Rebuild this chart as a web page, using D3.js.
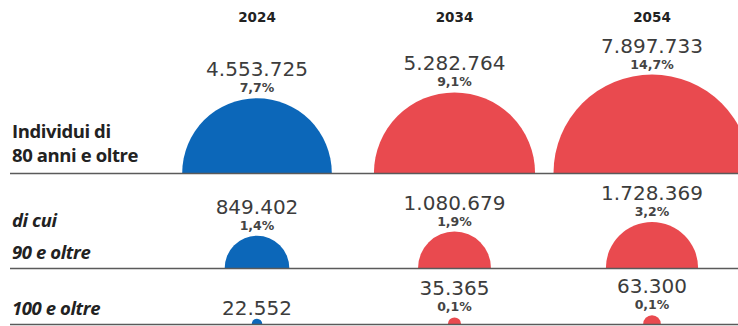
<!DOCTYPE html>
<html>
<head>
<meta charset="utf-8">
<script src="https://cdn.jsdelivr.net/npm/d3@7"></script>
<style>
  html, body { margin: 0; padding: 0; background: #fff; }
  #viz { width: 738px; height: 326px; overflow: hidden; }
</style>
</head>
<body>
<div id="viz"></div>
<script>
const years = ["2024", "2034", "2054"];
const rowKeys = ["80", "90", "100"];
const rowLabels = [["Individui di", "80 anni e oltre"], ["di cui", "90 e oltre"], ["100 e oltre"]];
const values80 = [4553725, 5282764, 7897733];
const pct80 = ["7,7%", "9,1%", "14,7%"];
const values90 = [849402, 1080679, 1728369];
const pct90 = ["1,4%", "1,9%", "3,2%"];
const values100 = [22552, 35365, 63300];
const pct100 = [null, "0,1%", "0,1%"];

function drawViz() {
  const container = document.getElementById('viz');
  container.innerHTML = '';
  const width = 738, height = 326;

  const svg = d3.select(container).append('svg')
    .attr('width', width)
    .attr('height', height);

  const rows = [
    { key: "80", label: rowLabels[0], values: values80, pct: pct80, italic: false, lineOffsets: [-35, -11] },
    { key: "90", label: rowLabels[1], values: values90, pct: pct90, italic: true, lineOffsets: [-41, -9] },
    { key: "100", label: rowLabels[2], values: values100, pct: pct100, italic: true, lineOffsets: [-9] }
  ];

  const x = d3.scalePoint().domain(years).range([257, 652]);
  const yBase = d3.scaleOrdinal().domain(rowKeys).range([173, 268, 324]);
  const r = d3.scaleSqrt().domain([0, d3.max(values80)]).range([0, 98.5]);
  const color = d3.scaleOrdinal().domain(years).range(["#0c67b9", "#e94a4f", "#e94a4f"]);
  const fmt = d3.formatLocale({ decimal: ",", thousands: ".", grouping: [3], currency: ["", "€"] }).format(",d");

  // year headers
  svg.selectAll('.year')
    .data(years)
    .enter().append('text')
    .attr('x', d => x(d))
    .attr('y', 22)
    .attr('text-anchor', 'middle')
    .attr('font-family', 'DejaVu Sans')
    .attr('font-weight', 'bold')
    .attr('font-size', 13.5)
    .attr('fill', '#222')
    .text(d => d);

  rows.forEach(row => {
    const base = yBase(row.key);
    const items = years.map((yr, i) => ({ year: yr, value: row.values[i], pct: row.pct[i] }));

    // half circles sitting on the baseline
    const arc = d3.arc()
      .innerRadius(0)
      .outerRadius(d => Math.max(r(d.value), 5))
      .startAngle(-Math.PI / 2)
      .endAngle(Math.PI / 2);

    svg.selectAll(`.semi-${row.key}`)
      .data(items)
      .enter().append('path')
      .attr('class', `semi-${row.key}`)
      .attr('transform', d => `translate(${x(d.year)},${base})`)
      .attr('d', arc)
      .attr('fill', d => color(d.year));

    // baseline rule
    svg.append('line')
      .attr('x1', 10).attr('x2', width)
      .attr('y1', base + 0.5).attr('y2', base + 0.5)
      .attr('stroke', '#5a5a5a')
      .attr('stroke-width', 1.3);

    // value labels
    svg.selectAll(`.val-${row.key}`)
      .data(items)
      .enter().append('text')
      .attr('x', d => x(d.year))
      .attr('y', d => base - r(d.value) - (d.pct ? 22 : 4))
      .attr('text-anchor', 'middle')
      .attr('font-family', 'DejaVu Sans')
      .attr('font-size', 20)
      .attr('fill', '#3c3c3c')
      .text(d => fmt(d.value));

    svg.selectAll(`.pct-${row.key}`)
      .data(items.filter(d => d.pct))
      .enter().append('text')
      .attr('x', d => x(d.year))
      .attr('y', d => base - r(d.value) - 6)
      .attr('text-anchor', 'middle')
      .attr('font-family', 'DejaVu Sans')
      .attr('font-weight', 'bold')
      .attr('font-size', 12.5)
      .attr('fill', '#444')
      .text(d => d.pct);

    // row label
    svg.selectAll(`.lab-${row.key}`)
      .data(row.label)
      .enter().append('text')
      .attr('x', 12)
      .attr('y', (d, i) => base + row.lineOffsets[i])
      .attr('font-family', 'Open Sans')
      .attr('font-weight', 'bold')
      .attr('font-style', row.italic ? 'italic' : 'normal')
      .attr('font-size', 18.5)
      .attr('letter-spacing', -0.4)
      .attr('fill', '#222')
      .text(d => d);
  });
}

drawViz();
</script>
</body>
</html>
